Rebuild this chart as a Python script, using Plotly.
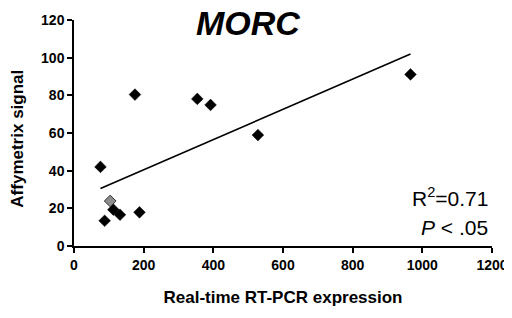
import plotly.graph_objects as go

# Data
x_black = [76, 175, 354, 392, 528, 113, 132, 88, 188, 966]
y_black = [42.0, 80.4, 78.1, 74.9, 58.9, 19.3, 16.6, 13.4, 17.9, 91.1]
x_gray = [104]
y_gray = [23.9]
trend_x = [76, 966]
trend_y = [30.5, 102.0]

x_ticks = [0, 200, 400, 600, 800, 1000, 1200]
y_ticks = [0, 20, 40, 60, 80, 100, 120]

FONT = "Arial, Liberation Sans, sans-serif"

fig = go.Figure()
fig.add_trace(go.Scatter(x=trend_x, y=trend_y, mode="lines",
                         line=dict(color="black", width=1.6), showlegend=False,
                         hoverinfo="skip"))
fig.add_trace(go.Scatter(x=x_black, y=y_black, mode="markers",
                         marker=dict(symbol="diamond", size=9, color="black",
                                     line=dict(color="black", width=0.5)),
                         showlegend=False))
fig.add_trace(go.Scatter(x=x_gray, y=y_gray, mode="markers",
                         marker=dict(symbol="diamond", size=9, color="#8c8c8c",
                                     line=dict(color="#333333", width=1)),
                         showlegend=False))

# page body has an 8px margin, so the figure is 8px smaller and shifted
fig.update_layout(
    width=504, height=310,
    margin=dict(l=66, r=20, t=12, b=72),
    paper_bgcolor="white", plot_bgcolor="white",
    font=dict(family=FONT, color="black"),
    xaxis=dict(range=[0, 1200], tickvals=x_ticks,
               ticktext=["<b>%d</b>" % v for v in x_ticks], automargin=False,
               showgrid=False, zeroline=False, showline=True, linecolor="black",
               linewidth=1.5, ticks="outside", ticklen=5, tickwidth=1.5, tickcolor="black",
               tickfont=dict(family=FONT, size=14, color="black", weight="bold"),
               title=dict(text="<b>Real-time RT-PCR expression</b>",
                          font=dict(family=FONT, size=17, color="black"), standoff=20)),
    yaxis=dict(range=[0, 120], tickvals=y_ticks,
               ticktext=["<b>%d</b>" % v for v in y_ticks], automargin=False,
               showgrid=False, zeroline=False, showline=True, linecolor="black",
               linewidth=1.5, ticks="outside", ticklen=5, tickwidth=1.5, tickcolor="black",
               tickfont=dict(family=FONT, size=14, color="black", weight="bold")),
    annotations=[
        dict(x=500, y=118.3, xref="x", yref="y", text="<b><i>MORC</i></b>",
             showarrow=False, font=dict(family=FONT, size=34, color="black"),
             xanchor="center", yanchor="middle"),
        dict(x=-0.135, y=0.473, xref="paper", yref="paper", text="<b>Affymetrix signal</b>",
             textangle=-90, showarrow=False, font=dict(family=FONT, size=17, color="black"),
             xanchor="center", yanchor="middle"),
        dict(x=1194, y=25.9, xref="x", yref="y", text="R<sup>2</sup>=0.71",
             showarrow=False, font=dict(family=FONT, size=21, color="black"),
             xanchor="right", yanchor="middle"),
        dict(x=1194, y=9.9, xref="x", yref="y", text="<i>P</i> &lt; .05",
             showarrow=False, font=dict(family=FONT, size=21, color="black"),
             xanchor="right", yanchor="middle"),
    ],
)

fig.write_html("out.html")
